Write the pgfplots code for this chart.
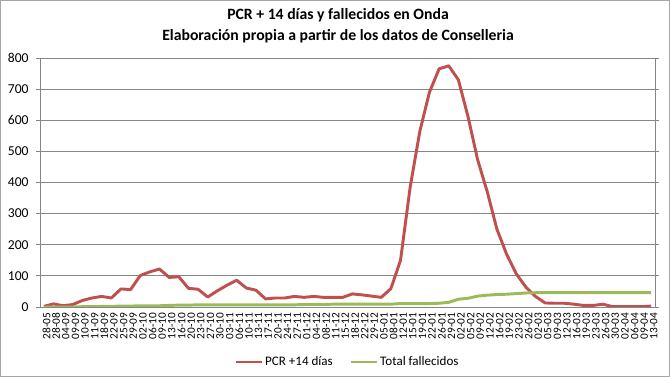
\documentclass[border=0pt]{standalone}
\usepackage{pgfplots}
\pgfplotsset{compat=1.18}
\usepackage{fontspec}
\setmainfont{Carlito}
\definecolor{exred}{RGB}{192,80,77}
\definecolor{exgreen}{RGB}{155,187,89}
\definecolor{gridgray}{RGB}{134,134,134}
\begin{document}
\begin{tikzpicture}[x=0.75pt,y=0.75pt]
\begin{axis}[
  name=ax,
  scale only axis, width=461.25pt, height=186.75pt,
  xmin=-0.4, xmax=63.4, ymin=0, ymax=800,
  ytick={0,100,...,800},
  xtick={0,...,63},
  xticklabels={28-05,28-08,04-09,09-09,10-09,11-09,18-09,22-09,25-09,29-09,02-10,06-10,09-10,13-10,16-10,20-10,23-10,27-10,30-10,03-11,06-11,10-11,13-11,17-11,20-11,24-11,27-11,01-12,04-12,08-12,11-12,15-12,18-12,22-12,29-12,05-01,08-01,12-01,15-01,19-01,22-01,26-01,29-01,02-02,05-02,09-02,12-02,16-02,19-02,23-02,26-02,02-03,05-03,09-03,12-03,16-03,19-03,23-03,26-03,30-03,02-04,06-04,09-04,13-04},
  x tick label style={rotate=90, anchor=east, font=\fontsize{8.5}{9}\selectfont, inner sep=1pt, yshift=-2pt},
  y tick label style={font=\fontsize{10.2}{11}\selectfont, xshift=-2pt},
  /pgf/number format/assume math mode=true,
  ymajorgrids, grid style={gridgray, line width=0.7pt},
  axis line style={gridgray, line width=0.7pt},
  xtick style={draw=none},
  ytick style={gridgray, line width=0.7pt},
  tick align=outside, major tick length=3pt,
  legend style={at={(0.5,-0.221)}, anchor=center, draw=none, fill=none, legend columns=2, font=\fontsize{9.8}{11}\selectfont, nodes={inner xsep=1.5pt}, /tikz/every even column/.append style={column sep=11pt}},
  legend image code/.code={\draw[#1, line width=2.2pt] (0,0) -- (0.68cm,0);},
]
\addplot[exred, line width=2.2pt, line join=round] coordinates {
(0,2)(1,10)(2,4)(3,8)(4,21)(5,29)(6,34)(7,29)(8,58)(9,56)
(10,101)(11,113)(12,122)(13,95)(14,97)(15,60)(16,57)(17,32)(18,52)(19,70)
(20,86)(21,61)(22,54)(23,26)(24,29)(25,29)(26,34)(27,31)(28,34)(29,31)
(30,31)(31,31)(32,42)(33,39)(34,35)(35,31)(36,59)(37,150)(38,385)(39,564)
(40,690)(41,765)(42,775)(43,730)(44,612)(45,473)(46,370)(47,250)(48,170)(49,107)
(50,64)(51,34)(52,13)(53,12)(54,12)(55,9)(56,5)(57,5)(58,9)(59,1)
(60,1)(61,1)(62,1)(63,3)};
\addlegendentry{PCR +14 días}
\addplot[exgreen, line width=2.2pt, line join=round] coordinates {
(0,0)(1,0)(2,0)(3,0)(4,1)(5,1)(6,2)(7,2)(8,3)(9,3)
(10,4)(11,4)(12,4)(13,5)(14,6)(15,6)(16,7)(17,7)(18,7)(19,7)
(20,7)(21,7)(22,7)(23,7)(24,7)(25,7)(26,7)(27,8)(28,8)(29,8)
(30,9)(31,9)(32,9)(33,9)(34,9)(35,9)(36,9)(37,11)(38,11)(39,11)
(40,11)(41,12)(42,15)(43,25)(44,28)(45,35)(46,38)(47,40)(48,41)(49,43)
(50,45)(51,46)(52,46)(53,46)(54,46)(55,46)(56,46)(57,46)(58,46)(59,46)
(60,46)(61,46)(62,46)(63,46)};
\addlegendentry{Total fallecidos}
\end{axis}
\node[font=\fontsize{11.8}{14}\selectfont\bfseries] at ([shift={(298,292)}]ax.south west) {PCR + 14 días y fallecidos en Onda};
\node[font=\fontsize{11.8}{14}\selectfont\bfseries] at ([shift={(298,271)}]ax.south west) {Elaboración propia a partir de los datos de Conselleria};
\draw[gray!70, line width=0.6pt] ([shift={(-39.5,-69.5)}]ax.south west) rectangle ([shift={(629.5,306.5)}]ax.south west);
\pgfresetboundingbox
\path ([shift={(-40,-70)}]ax.south west) rectangle ([shift={(630,307)}]ax.south west);
\end{tikzpicture}
\end{document}
